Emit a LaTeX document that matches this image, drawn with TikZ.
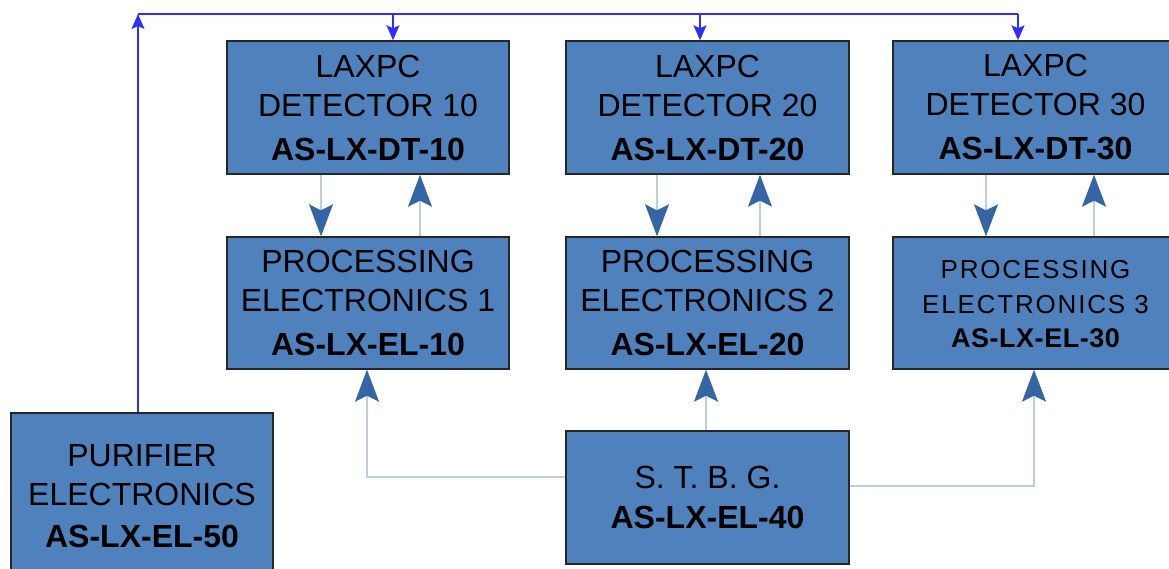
\documentclass[tikz,border=0pt]{standalone}
\usepackage{fontspec}
\setmainfont{Liberation Sans}
\usetikzlibrary{arrows.meta}
\definecolor{boxblue}{RGB}{79,129,189}
\definecolor{paleblue}{RGB}{185,205,229}
\definecolor{arrowblue}{RGB}{54,101,166}
\definecolor{linkblue}{RGB}{45,45,255}
\begin{document}
\begin{tikzpicture}[x=1pt,y=-1pt,
  box/.style={draw=black!85, line width=1.4pt, fill=boxblue, align=center, inner sep=0pt,
    font=\fontsize{32}{39}\selectfont},
  boxtext/.style={align=center, inner sep=0pt, font=\fontsize{32}{39}\selectfont},
  smalltext/.style={boxtext, font=\fontsize{26}{35}\selectfont\addfontfeature{LetterSpace=7}},
  pale/.style={draw=paleblue, line width=1.3pt},
  parrow/.style={pale, -{Stealth[length=32pt,width=24pt,inset=6pt,color=arrowblue]}},
  bline/.style={draw=linkblue, line width=1.5pt},
  barrow/.style={bline, -{Stealth[length=15pt,width=13pt,inset=3pt]}}]
\useasboundingbox (0,0) rectangle (1169,569);
\clip (0,0) rectangle (1169,569);

% boxes
\node[box, minimum width=282pt, minimum height=133pt] (dt10) at (368,107.5)
  {LAXPC\\DETECTOR 10\\[5pt]\textbf{AS-LX-DT-10}};
\node[box, minimum width=283pt, minimum height=133pt] (dt20) at (707.5,107.5)
  {LAXPC\\DETECTOR 20\\[5pt]\textbf{AS-LX-DT-20}};
\node[box, minimum width=330pt, minimum height=133pt] (dt30) at (1058,107.5) {};
\node[boxtext] (dt30t) at (1035.5,107.5)
  {LAXPC\\DETECTOR 30\\[5pt]\textbf{AS-LX-DT-30}};
\node[box, minimum width=282pt, minimum height=132pt] (pe1) at (368,303)
  {PROCESSING\\ELECTRONICS 1\\[5pt]\textbf{AS-LX-EL-10}};
\node[box, minimum width=283pt, minimum height=132pt] (pe2) at (707.5,303)
  {PROCESSING\\ELECTRONICS 2\\[5pt]\textbf{AS-LX-EL-20}};
\node[box, minimum width=330pt, minimum height=132pt] (pe3) at (1058,303) {};
\node[smalltext] (pe3t) at (1035.5,304)
  {PROCESSING\\ELECTRONICS 3\\[-1pt]{\fontsize{27}{35}\selectfont\addfontfeature{LetterSpace=2}\bfseries AS-LX-EL-30}};
\node[box, minimum width=283pt, minimum height=133pt] (stbg) at (707.5,497.5)
  {S. T. B. G.\\[1pt]\textbf{AS-LX-EL-40}};
\node[box, minimum width=262pt, minimum height=167pt] (pur) at (142,496.5)
  {PURIFIER\\ELECTRONICS\\[3pt]\textbf{AS-LX-EL-50}};

% detector <-> processing links
\coordinate (a1) at (321,0);
\coordinate (b1) at (420,0);
\coordinate (a2) at (657,0);
\coordinate (b2) at (760,0);
\coordinate (a3) at (986,0);
\coordinate (b3) at (1094,0);
\draw[parrow] (dt10.south -| a1) -- (pe1.north -| a1);
\draw[parrow] (pe1.north -| b1) -- (dt10.south -| b1);
\draw[parrow] (dt20.south -| a2) -- (pe2.north -| a2);
\draw[parrow] (pe2.north -| b2) -- (dt20.south -| b2);
\draw[parrow] (dt30.south -| a3) -- (pe3.north -| a3);
\draw[parrow] (pe3.north -| b3) -- (dt30.south -| b3);

% STBG links
\coordinate (l1) at (367,477);
\coordinate (r1) at (1034,486);
\coordinate (m1) at (706,0);
\draw[parrow] (stbg.west |- l1) -| (pe1.south -| l1);
\draw[parrow] (stbg.east |- r1) -| (pe3.south -| r1);
\draw[parrow] (stbg.north -| m1) -- (pe2.south -| m1);

% purifier bus
\coordinate (tl) at (138,14);
\coordinate (t1) at (393,14);
\coordinate (t2) at (700,14);
\coordinate (t3) at (1018,14);
\draw[barrow] (pur.north -| tl) -- (tl);
\draw[bline] (tl) -- (t3);
\draw[barrow] (t1) -- (dt10.north -| t1);
\draw[barrow] (t2) -- (dt20.north -| t2);
\draw[barrow] (t3) -- (dt30.north -| t3);
\end{tikzpicture}
\end{document}
